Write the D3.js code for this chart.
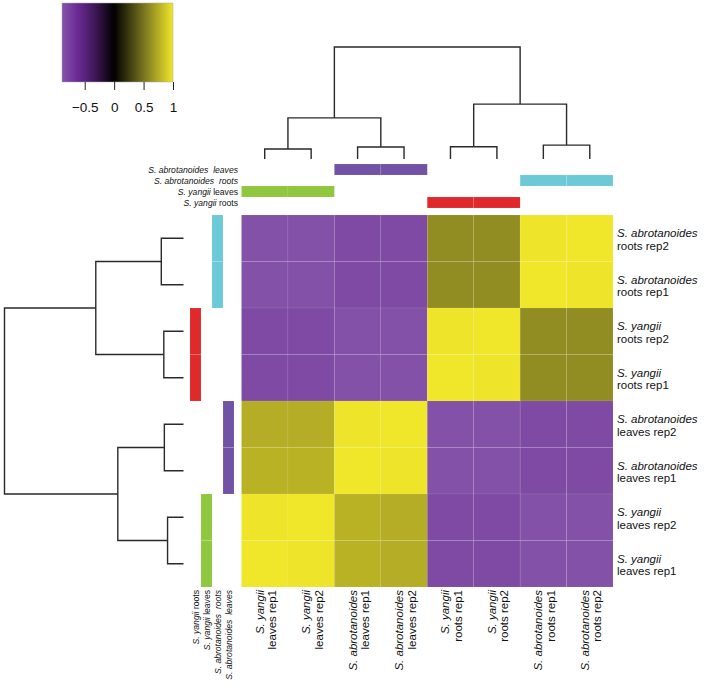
<!DOCTYPE html>
<html>
<head>
<meta charset="utf-8">
<script src="https://cdn.jsdelivr.net/npm/d3@7"></script>
<style>
  body { margin: 0; background: #fff; }
  svg { display: block; }
  text { font-family: "Liberation Sans", Arial, sans-serif; fill: #111; white-space: pre; }
</style>
</head>
<body>
<div id="chart"></div>
<script>
// samples in column (dendrogram) order
const sampleIds = ['SyL1', 'SyL2', 'SaL1', 'SaL2', 'SyR1', 'SyR2', 'SaR1', 'SaR2'];
const sampleSpecies = ['S. yangii', 'S. yangii', 'S. abrotanoides', 'S. abrotanoides',
                       'S. yangii', 'S. yangii', 'S. abrotanoides', 'S. abrotanoides'];
const sampleTissue = ['leaves rep1', 'leaves rep2', 'leaves rep1', 'leaves rep2',
                      'roots rep1', 'roots rep2', 'roots rep1', 'roots rep2'];
const sampleGroup = ['S. yangii leaves', 'S. yangii leaves', 'S. abrotanoides  leaves', 'S. abrotanoides  leaves',
                     'S. yangii roots', 'S. yangii roots', 'S. abrotanoides  roots', 'S. abrotanoides  roots'];
// rows are drawn bottom-up
const rowOrder = [...sampleIds].reverse();

// correlation matrix, rows and columns in sampleIds order
const corValues = [
  [ 1.00,  0.99,  0.77,  0.75, -0.82, -0.82, -0.87, -0.87],
  [ 0.99,  1.00,  0.77,  0.75, -0.82, -0.82, -0.87, -0.87],
  [ 0.77,  0.77,  1.00,  0.99, -0.87, -0.87, -0.82, -0.82],
  [ 0.75,  0.75,  0.99,  1.00, -0.87, -0.87, -0.82, -0.82],
  [-0.82, -0.82, -0.87, -0.87,  1.00,  0.99,  0.61,  0.61],
  [-0.82, -0.82, -0.87, -0.87,  0.99,  1.00,  0.61,  0.61],
  [-0.87, -0.87, -0.82, -0.82,  0.61,  0.61,  1.00,  0.99],
  [-0.87, -0.87, -0.82, -0.82,  0.61,  0.61,  0.99,  1.00]
];

// hierarchical clustering merges (hclust style) and their heights
const merges = [['SyL1', 'SyL2'], ['SaL1', 'SaL2'], ['SyR1', 'SyR2'], ['SaR1', 'SaR2'],
                ['m0', 'm1'], ['m2', 'm3'], ['m4', 'm5']];
const mergeHeights = [0.089, 0.107, 0.11, 0.124, 0.367, 0.49, 1];

// annotation groups
const groupNames = ['S. abrotanoides  leaves', 'S. abrotanoides  roots', 'S. yangii leaves', 'S. yangii roots'];
const groupItalic = ['S. abrotanoides  leaves', 'S. abrotanoides  roots', 'S. yangii', 'S. yangii'];
const groupPlain = ['', '', ' leaves', ' roots'];
const groupColors = ['#7252a4', '#6ccad6', '#8fc73e', '#e0292b'];

// colour key
const keyTicks = [-0.5, 0, 0.5, 1];
const keyDomain = [-0.886, 1];
const colorStops = [-0.886, -0.62, -0.3, 0, 0.5, 1];
const colorRange = ['#8554a8', '#6a2a95', '#3a1550', '#000000', '#787420', '#f0e62a'];

const width = 708, height = 689;
const lineGap = 12.5;
const svg = d3.select('#chart').append('svg')
    .attr('width', width)
    .attr('height', height);

const color = d3.scaleLinear().domain(colorStops).range(colorRange);

const xScale = d3.scaleBand().domain(sampleIds).range([241.5, 613]);
const yScale = d3.scaleBand().domain(rowOrder).range([215, 587]);

// ---- heatmap cells
const cells = [];
rowOrder.forEach(r => {
  sampleIds.forEach(c => {
    cells.push({row: r, col: c, value: corValues[sampleIds.indexOf(r)][sampleIds.indexOf(c)]});
  });
});

svg.append('g').selectAll('rect')
  .data(cells)
  .join('rect')
    .attr('x', d => xScale(d.col))
    .attr('y', d => yScale(d.row))
    .attr('width', xScale.bandwidth())
    .attr('height', yScale.bandwidth())
    .attr('fill', d => color(d.value))
    .attr('stroke', '#fff')
    .attr('stroke-opacity', 0.12)
    .attr('stroke-width', 0.6);

// ---- dendrograms
function drawDendrogram(posScale, hScale, horizontal) {
  const pos = {}, hgt = {};
  sampleIds.forEach(s => { pos[s] = posScale(s) + posScale.bandwidth() / 2; hgt[s] = 0; });
  const paths = merges.map((m, i) => {
    const id = 'm' + i;
    pos[id] = (pos[m[0]] + pos[m[1]]) / 2;
    hgt[id] = mergeHeights[i];
    const h = hScale(hgt[id]);
    const a = [pos[m[0]], hScale(hgt[m[0]])], b = [pos[m[1]], hScale(hgt[m[1]])];
    if (horizontal) {
      return `M${a[1]},${a[0]}H${h}V${b[0]}H${b[1]}`;
    }
    return `M${a[0]},${a[1]}V${h}H${b[0]}V${b[1]}`;
  });
  svg.append('g').selectAll('path')
    .data(paths)
    .join('path')
      .attr('d', d => d)
      .attr('fill', 'none')
      .attr('stroke', '#2a2a2a')
      .attr('stroke-width', 1.4);
}

drawDendrogram(xScale, d3.scaleLinear().domain([0, 1]).range([159, 47]), false);
drawDendrogram(yScale, d3.scaleLinear().domain([0, 1]).range([183.5, 4.5]), true);

// ---- column annotation bars (top)
const annY = d3.scaleBand().domain(groupNames).range([164, 208]);
svg.append('g').selectAll('rect')
  .data(sampleIds)
  .join('rect')
    .attr('x', d => xScale(d))
    .attr('y', (d, i) => annY(sampleGroup[i]))
    .attr('width', xScale.bandwidth())
    .attr('height', annY.bandwidth())
    .attr('fill', (d, i) => groupColors[groupNames.indexOf(sampleGroup[i])])
    .attr('stroke', '#fff')
    .attr('stroke-opacity', 0.15)
    .attr('stroke-width', 0.6);

const topLab = svg.append('g').selectAll('text')
  .data(groupNames)
  .join('text')
    .attr('x', 238)
    .attr('y', d => annY(d) + annY.bandwidth() / 2 + 3)
    .attr('text-anchor', 'end')
    .attr('font-size', 8.6);
topLab.append('tspan').attr('font-style', 'italic').text((d, i) => groupItalic[i]);
topLab.append('tspan').text((d, i) => groupPlain[i]);

// ---- row annotation bars (left)
const annX = d3.scaleBand().domain([...groupNames].reverse()).range([190, 234]);
svg.append('g').selectAll('rect')
  .data(sampleIds)
  .join('rect')
    .attr('x', (d, i) => annX(sampleGroup[i]))
    .attr('y', d => yScale(d))
    .attr('width', annX.bandwidth())
    .attr('height', yScale.bandwidth())
    .attr('fill', (d, i) => groupColors[groupNames.indexOf(sampleGroup[i])])
    .attr('stroke', '#fff')
    .attr('stroke-opacity', 0.15)
    .attr('stroke-width', 0.6);

const leftLab = svg.append('g').selectAll('text')
  .data(groupNames)
  .join('text')
    .attr('transform', d => `translate(${annX(d) + annX.bandwidth() / 2 + 3},590) rotate(-90)`)
    .attr('text-anchor', 'end')
    .attr('font-size', 8.6);
leftLab.append('tspan').attr('font-style', 'italic').text((d, i) => groupItalic[i]);
leftLab.append('tspan').text((d, i) => groupPlain[i]);

// ---- row labels (right)
const rowLab = svg.append('g').selectAll('g')
  .data(rowOrder)
  .join('g')
    .attr('transform', d => `translate(617,${yScale(d) + yScale.bandwidth() / 2 - 1})`);
rowLab.append('text')
    .attr('font-size', 11.5)
    .attr('font-style', 'italic')
    .text(d => sampleSpecies[sampleIds.indexOf(d)]);
rowLab.append('text')
    .attr('y', lineGap)
    .attr('font-size', 11.5)
    .text(d => sampleTissue[sampleIds.indexOf(d)]);

// ---- column labels (bottom)
const colLab = svg.append('g').selectAll('g')
  .data(sampleIds)
  .join('g')
    .attr('transform', d => `translate(${xScale(d) + xScale.bandwidth() / 2 - 1},590) rotate(-90)`);
colLab.append('text')
    .attr('text-anchor', 'end')
    .attr('font-size', 11.5)
    .attr('font-style', 'italic')
    .text((d, i) => sampleSpecies[i]);
colLab.append('text')
    .attr('y', lineGap)
    .attr('text-anchor', 'end')
    .attr('font-size', 11.5)
    .text((d, i) => sampleTissue[i]);

// ---- colour key
const keyX = d3.scaleLinear().domain(keyDomain).range([62, 173]);
const grad = svg.append('defs').append('linearGradient')
    .attr('id', 'keyGrad')
    .attr('x1', '0%').attr('x2', '100%');
d3.range(0, 1.0001, 0.02).forEach(t => {
  const v = keyDomain[0] + t * (keyDomain[1] - keyDomain[0]);
  grad.append('stop').attr('offset', `${t * 100}%`).attr('stop-color', color(v));
});
svg.append('rect')
    .attr('x', keyX.range()[0])
    .attr('y', 3)
    .attr('width', keyX.range()[1] - keyX.range()[0])
    .attr('height', 79)
    .attr('fill', 'url(#keyGrad)')
    .attr('stroke', '#aaa')
    .attr('stroke-width', 0.5);

const keyAxis = svg.append('g')
    .attr('transform', 'translate(0,82)')
    .call(d3.axisBottom(keyX).tickValues(keyTicks).tickSize(8).tickPadding(12)
      .tickFormat(d => d === 0 || d === 1 ? d : d3.format('.1f')(d).replace('-', '\u2212')));
keyAxis.select('.domain').remove();
keyAxis.selectAll('line').attr('stroke', '#222');
keyAxis.selectAll('text')
    .attr('font-size', 13.5)
    .attr('font-family', '"Liberation Sans", Arial, sans-serif')
    .attr('fill', '#111');
</script>
</body>
</html>
